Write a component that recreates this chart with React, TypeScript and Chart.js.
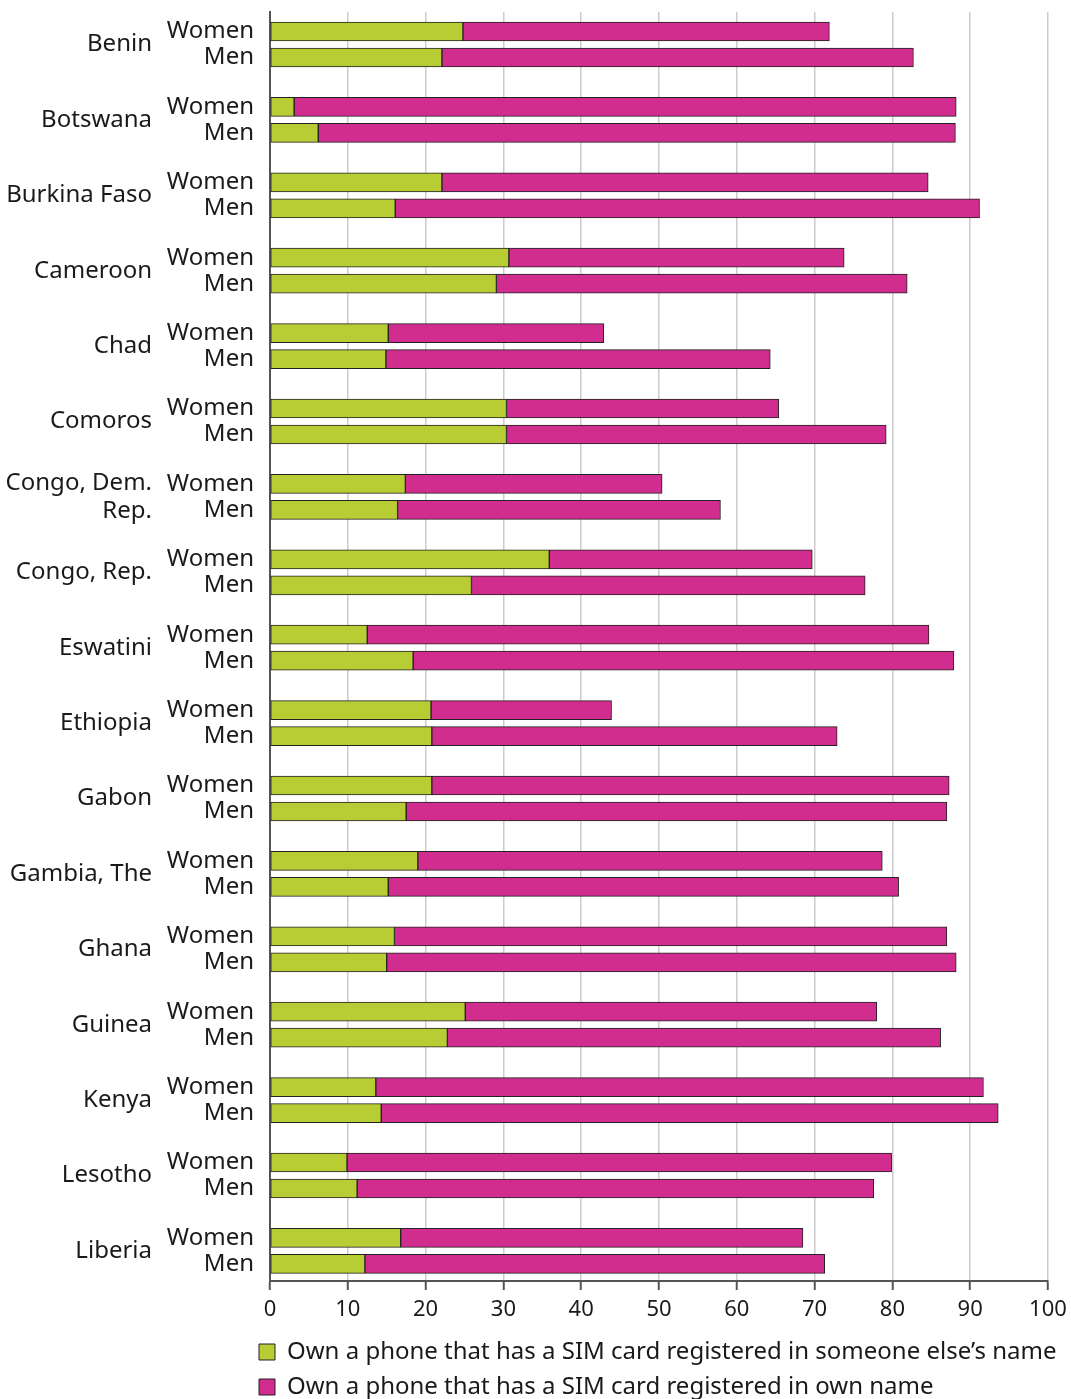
import React, { useEffect, useRef } from "react";
import { Chart, registerables } from "chart.js";

Chart.register(...registerables);

const countries = [
  "Benin",
  "Botswana",
  "Burkina Faso",
  "Cameroon",
  "Chad",
  "Comoros",
  "Congo, Dem.\nRep.",
  "Congo, Rep.",
  "Eswatini",
  "Ethiopia",
  "Gabon",
  "Gambia, The",
  "Ghana",
  "Guinea",
  "Kenya",
  "Lesotho",
  "Liberia",
];

const rowLabels = ["Women", "Men"];

const seriesNames = [
  "Own a phone that has a SIM card registered in someone else\u2019s name",
  "Own a phone that has a SIM card registered in own name",
];

// SIM card registered in someone else's name (%)
const womenOther = [24.8, 3.1, 22.1, 30.7, 15.2, 30.4, 17.4, 35.9, 12.5, 20.7, 20.8, 19.0, 16.0, 25.1, 13.6, 9.9, 16.8];
const menOther = [22.1, 6.2, 16.1, 29.1, 14.9, 30.4, 16.4, 25.9, 18.4, 20.8, 17.5, 15.2, 15.0, 22.8, 14.3, 11.2, 12.2];

// SIM card registered in own name (%)
const womenOwn = [47.1, 85.1, 62.5, 43.1, 27.7, 35.0, 33.0, 33.8, 72.2, 23.2, 66.5, 59.7, 71.0, 52.9, 78.1, 70.0, 51.7];
const menOwn = [60.6, 81.9, 75.1, 52.8, 49.4, 48.8, 41.5, 50.6, 69.5, 52.1, 69.5, 65.6, 73.2, 63.4, 79.3, 66.4, 59.1];

const xMin = 0;
const xMax = 100;
const xStep = 10;

const GREEN = "#b8cc34";
const MAGENTA = "#d12d8e";
const BORDER = "#222222";
const TEXT = "#1a1a1a";
const FONT = '"Noto Sans", "Open Sans", sans-serif';

const W = 1071;
const H = 1399;
const PLOT_LEFT = 270;
const PLOT_TOP = 12;
const PLOT_BOTTOM = 1281;
const PLOT_RIGHT_PAD = 23;
const GROUP_STEP = 2.9;
const COUNTRY_X = 152;
const LEGEND_FONT = 24;
const LEGEND_PAD = 11;
const LEGEND_X = 259;
const LEGEND_ROW1 = 1352;

export default function App() {
  const ref = useRef<HTMLCanvasElement | null>(null);

  useEffect(() => {
    const canvas = ref.current;
    if (!canvas) return;
    Chart.defaults.font.family = FONT;

    const pos = (i: number, g: number) => i * GROUP_STEP + g;
    const otherData: { x: number; y: number }[] = [];
    const ownData: { x: number; y: number }[] = [];
    countries.forEach((_, i) => {
      otherData.push({ x: womenOther[i], y: pos(i, 0) }, { x: menOther[i], y: pos(i, 1) });
      ownData.push({ x: womenOwn[i], y: pos(i, 0) }, { x: menOwn[i], y: pos(i, 1) });
    });
    const tickPositions = countries.flatMap((_, i) => [pos(i, 0), pos(i, 1)]);

    const pxPerUnit = 26;
    const yMin = -(31.5 - PLOT_TOP) / pxPerUnit;
    const yMax = yMin + (PLOT_BOTTOM - PLOT_TOP) / pxPerUnit;

    const helperPlugin = {
      id: "countryLabels",
      beforeDraw(chart: any) {
        const lg = chart.legend;
        if (lg) {
          lg.left = LEGEND_X - LEGEND_PAD;
          lg.right = W;
          lg.width = lg.right - lg.left;
          lg.top = LEGEND_ROW1 - LEGEND_PAD - LEGEND_FONT / 2;
          lg.bottom = H;
          lg.height = lg.bottom - lg.top;
        }
      },
      afterDraw(chart: any) {
        const ctx = chart.ctx;
        const ys = chart.scales.y;
        ctx.save();
        ctx.font = `24px ${FONT}`;
        ctx.fillStyle = TEXT;
        ctx.textAlign = "right";
        ctx.textBaseline = "middle";
        countries.forEach((name, i) => {
          const a = ys.getPixelForValue(pos(i, 0));
          const b = ys.getPixelForValue(pos(i, 1));
          const mid = (a + b) / 2;
          const lines = name.split("\n");
          const lh = 28;
          lines.forEach((ln, k) => {
            const y = mid + (k - (lines.length - 1) / 2) * lh;
            ctx.fillText(ln, COUNTRY_X, y);
          });
        });
        ctx.restore();
      },
    };

    const chart = new Chart(canvas, {
      type: "bar",
      data: {
        datasets: [
          {
            label: seriesNames[0],
            data: otherData,
            backgroundColor: GREEN,
            borderColor: BORDER,
            borderWidth: 1,
            borderSkipped: false,
            barThickness: 19,
          },
          {
            label: seriesNames[1],
            data: ownData,
            backgroundColor: MAGENTA,
            borderColor: BORDER,
            borderWidth: 1,
            borderSkipped: false,
            barThickness: 19,
          },
        ],
      } as any,
      options: {
        indexAxis: "y",
        animation: false,
        responsive: false,
        maintainAspectRatio: false,
        layout: { padding: { left: 0, top: PLOT_TOP, right: PLOT_RIGHT_PAD, bottom: 0 } },
        scales: {
          x: {
            type: "linear",
            position: "bottom",
            min: xMin,
            max: xMax,
            stacked: true,
            ticks: {
              stepSize: xStep,
              color: TEXT,
              font: { size: 22 },
              padding: 7,
              maxRotation: 0,
            },
            grid: {
              color: "#cccccc",
              lineWidth: 1.5,
              tickLength: 9,
              tickColor: "#555555",
              tickWidth: 2,
            },
            border: { color: "#555555", width: 2 },
            afterFit: (s: any) => {
              const lh = s.chart.legend ? s.chart.legend.height : 0;
              s.height = Math.max(0, H - PLOT_BOTTOM - lh);
              s.paddingLeft = 0;
              s.paddingRight = 0;
            },
          },
          y: {
            type: "linear",
            reverse: true,
            min: yMin,
            max: yMax,
            offset: false,
            bounds: "data",
            stacked: true,
            afterBuildTicks: (s: any) => {
              s.ticks = tickPositions.map((v) => ({ value: v }));
            },
            afterFit: (s: any) => {
              s.width = PLOT_LEFT;
              s.paddingTop = 0;
              s.paddingBottom = 0;
            },
            grid: { display: false, drawTicks: false, offset: false },
            border: { display: true, color: "#555555", width: 2 },
            ticks: {
              autoSkip: false,
              padding: 16,
              color: TEXT,
              font: { size: 24 },
              callback: (_v: any, i: number) => rowLabels[i % 2],
            },
          },
        },
        plugins: {
          legend: {
            position: "bottom",
            align: "start",
            labels: {
              boxWidth: 16,
              boxHeight: 16,
              padding: LEGEND_PAD,
              color: TEXT,
              font: { size: LEGEND_FONT },
            },
          },
          tooltip: { enabled: false },
        },
      } as any,
      plugins: [helperPlugin],
    });

    return () => chart.destroy();
  }, []);

  return (
    <div style={{ position: "absolute", left: 0, top: 0, width: W, height: H, background: "#fff" }}>
      <canvas ref={ref} width={W} height={H} style={{ display: "block" }} />
    </div>
  );
}
